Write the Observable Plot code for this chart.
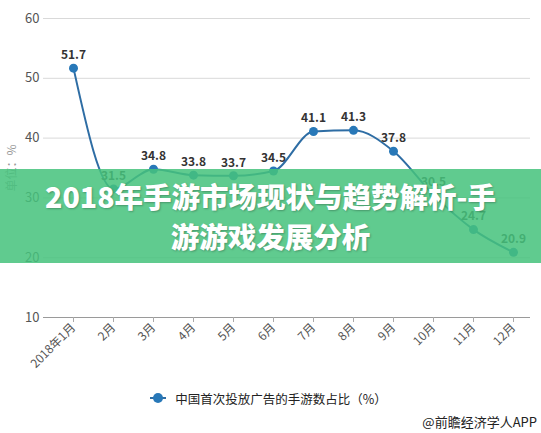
<!DOCTYPE html>
<html><head><meta charset="utf-8">
<script src="https://cdn.jsdelivr.net/npm/d3@7"></script>
<script src="https://cdn.jsdelivr.net/npm/@observablehq/plot@0.6"></script>
<style>
body{margin:0;background:#fff;font-family:"Noto Sans CJK SC","Noto Sans",sans-serif}
#wrap{position:relative;width:541px;height:433px;overflow:hidden;background:#fff}
#chart svg{display:block}
#legend{position:absolute;left:0;top:388px;width:541px;height:20px;display:flex;justify-content:center;align-items:center;font-size:12.5px;color:#222;padding-right:4px;box-sizing:border-box}
#legend .mk{position:relative;width:16px;height:10px;margin-right:9px}
#legend .mk:before{content:"";position:absolute;left:0;top:4px;width:16px;height:2px;background:#2e6da4}
#legend .mk:after{content:"";position:absolute;left:3px;top:0;width:10px;height:10px;border-radius:50%;background:#2878b8}
#caption{position:absolute;right:4px;top:412px;font-size:13px;color:#222;line-height:20px}
#banner{position:absolute;left:0;top:169px;width:541px;height:94px;background:rgba(70,195,125,0.86);color:#fff;font-weight:900;font-size:28.5px;line-height:40px;text-align:center;display:flex;flex-direction:column;justify-content:center;text-shadow:1px 1px 2px rgba(0,0,0,0.25)}
</style>
</head><body>
<div id="wrap">
<div id="chart"></div>
<div id="legend"><span class="mk"></span><span id="legendText"></span></div>
<div id="caption"></div>
<div id="banner"></div>
</div>
<script>
const months = ["2018年1月","2月","3月","4月","5月","6月","7月","8月","9月","10月","11月","12月"];
const values = [51.7,31.5,34.8,33.8,33.7,34.5,41.1,41.3,37.8,30.5,24.7,20.9];
const yTicks = [10,20,30,40,50,60];
const seriesName = "中国首次投放广告的手游数占比（%）";
const yLabel = "单位：%";
const caption = "@前瞻经济学人APP";
const bannerLines = ["2018年手游市场现状与趋势解析-手","游游戏发展分析"];

const data = months.map((m,i)=>({month:m,value:values[i]}));

const chart = Plot.plot({
  width:541, height:385,
  marginLeft:43, marginRight:11, marginTop:18, marginBottom:68,
  style:{fontFamily:"'Noto Sans CJK SC','Noto Sans',sans-serif", background:"transparent"},
  x:{type:"point", domain:months, range:[73,513], padding:0, label:null},
  y:{domain:[10,60], label:null},
  marks:[
    Plot.gridY(yTicks.filter(t=>t>10), {stroke:"#d9d9d9", strokeOpacity:1}),
    Plot.ruleY([10], {stroke:"#9a9a9a"}),
    Plot.axisY({ticks:yTicks, tickSize:0, tickPadding:4, fontSize:13, color:"#555", label:yLabel, labelAnchor:"center", labelOffset:36, labelArrow:"none"}),
    Plot.axisX({tickSize:5, tickRotate:-45, fontSize:12, color:"#555", label:null, tickPadding:3}),
    Plot.line(data,{x:"month",y:"value",curve:"monotone-x",stroke:"#2e6da4",strokeWidth:2}),
    Plot.dot(data,{x:"month",y:"value",r:4.5,fill:"#2878b8",stroke:"none"}),
    Plot.text(data,{x:"month",y:"value",text:d=>d.value.toFixed(1),dy:-13,fontSize:12,fontWeight:"bold",fill:"#333"})
  ]
});
document.getElementById("chart").appendChild(chart);
d3.select(chart).selectAll("[aria-label='x-axis tick']").attr("stroke","#aaa");
d3.select(chart).selectAll("[aria-label='x-axis tick'] path").attr("stroke","#aaa");
d3.select(chart).selectAll("[aria-label='y-axis label']").attr("fill","#999");
d3.select(chart).selectAll("[aria-label='y-axis label'] text").attr("fill","#999").attr("font-size",12);

document.getElementById("legendText").textContent = seriesName;
document.getElementById("caption").textContent = caption;
const b = document.getElementById("banner");
bannerLines.forEach(t=>{const d=document.createElement("div");d.textContent=t;b.appendChild(d);});
</script>
</body></html>
